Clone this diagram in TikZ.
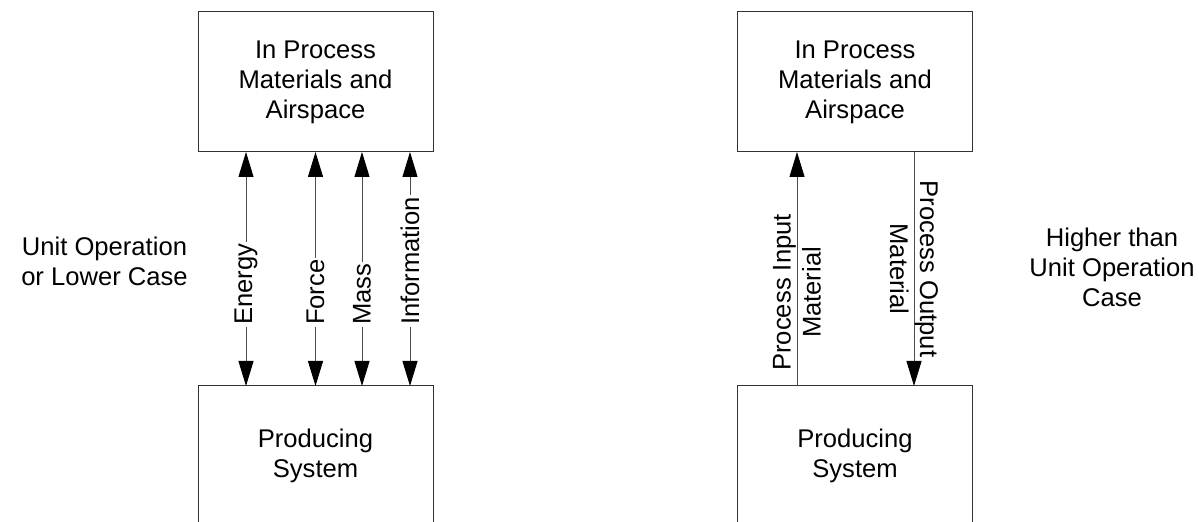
\documentclass[tikz,border=0pt]{standalone}
\usepackage{fontspec}
\setmainfont{Liberation Sans}
\usetikzlibrary{arrows.meta}

\begin{document}
\begin{tikzpicture}[x=0.5pt,y=-0.5pt,font=\fontsize{12.8}{15}\selectfont]
\useasboundingbox (0,0) rectangle (1199,522);
\clip (0,0) rectangle (1199,522);
\tikzstyle{Block} = [draw=black!80, line width=0.5pt, minimum width=117.5pt, minimum height=70pt, inner sep=0, outer sep=0, align=center]
\tikzstyle{Case} = [align=center]

\node [Block] (v1) at (315.5,82) {In Process\\Materials and\\Airspace};
\node [Block] (v2) at (315.5,456) {Producing\\System};
\node [Block] (v3) at (855,82) {In Process\\Materials and\\Airspace};
\node [Block] (v4) at (855,456) {Producing\\System};
\node [Case] (v5) at (104.5,261) {Unit Operation\\or Lower Case};
\node [Case] (v6) at (1112,267) {Higher than\\Unit Operation\\Case};

\tikzstyle{Leitung} = [draw=black!70, line width=0.5pt, >={Triangle[length=12.5pt,width=7.5pt,color=black]}]
\tikzstyle{Stoff} = [pos=0.75, rotate=90, anchor=west, fill=white, inner sep=1pt]
\draw [Leitung, <->] ([xshift=-34.75pt]v1.south) -- node[Stoff] {Energy} ([xshift=-34.75pt]v2.north);
\draw [Leitung, <->] (v1.south) -- node[Stoff] {Force} (v2.north);
\draw [Leitung, <->] ([xshift=23.25pt]v1.south) -- node[Stoff] {Mass} ([xshift=23.25pt]v2.north);
\draw [Leitung, <->] ([xshift=47.25pt]v1.south) -- node[Stoff] {Information} ([xshift=47.25pt]v2.north);

\draw [Leitung, ->] ([xshift=-29pt]v4.north) -- node[pos=0.4, rotate=90, align=center] {Process Input\\Material} ([xshift=-29pt]v3.south);
\draw [Leitung, ->] ([xshift=29.5pt]v3.south) -- node[pos=0.5, rotate=-90, align=center] {Process Output\\Material} ([xshift=29.5pt]v4.north);
\end{tikzpicture}
\end{document}
